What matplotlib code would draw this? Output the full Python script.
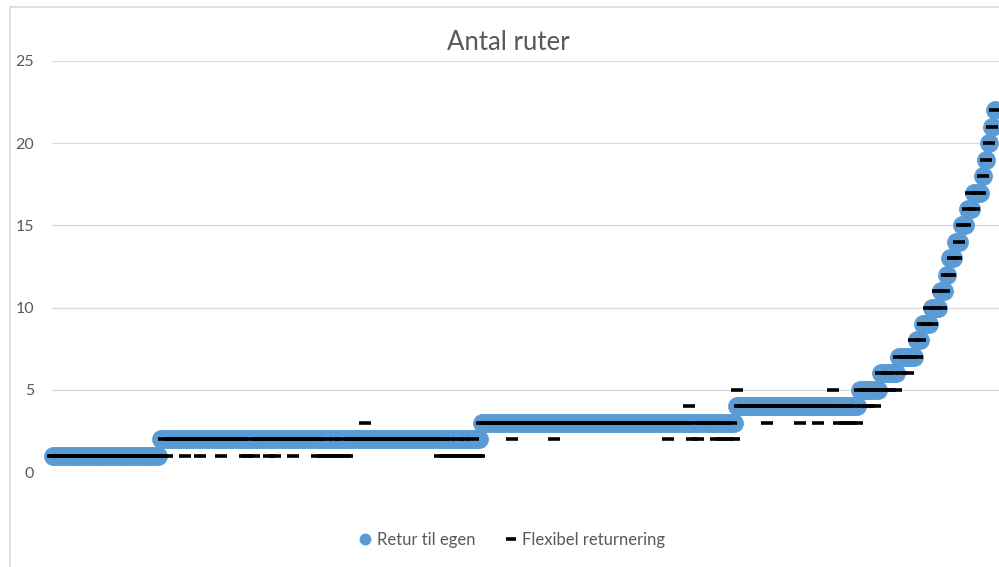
import numpy as np
import matplotlib.pyplot as plt
from matplotlib.lines import Line2D
from matplotlib.patches import Rectangle

plt.rcParams['font.family'] = ['Lato', 'DejaVu Sans']

# Retur til egen: antal ruter pr. instans, sorteret (niveau og antal instanser)
egen_levels = [1, 2, 3, 4, 5, 6, 7, 8, 9, 10, 11, 12, 13, 14, 15, 16, 17, 18, 19, 20, 21, 22]
egen_counts = [36, 107, 85, 41, 7, 6, 6, 2, 3, 3, 2, 1, 2, 2, 2, 2, 3, 1, 1, 1, 1, 1]

# Flexibel returnering: instanser hvor antallet afviger fra "Retur til egen"
flex_idx = [37, 39, 45, 50, 57, 65, 66, 68, 73, 75, 81,
            89, 91, 93, 94, 96, 98, 99, 105,
            130, 132, 134, 135, 137, 139, 140, 142, 143,
            154, 168, 206, 213, 214, 216, 222, 224, 226, 228,
            229, 239, 250, 256, 261, 263, 265, 267, 269,
            271, 273, 275, 278, 280, 282, 284, 286, 288, 289,
            293, 294, 296, 297, 300, 302, 307, 308]
flex_val = [1, 1, 1, 1, 1, 1, 1, 1, 1, 1, 1,
            1, 1, 1, 1, 1, 1, 1, 3,
            1, 1, 1, 1, 1, 1, 1, 1, 1,
            2, 2, 2, 4, 2, 2, 2, 2, 2, 2,
            5, 3, 3, 3, 5, 3, 3, 3, 3,
            4, 4, 4, 5, 5, 5, 6, 6, 8, 7,
            10, 9, 11, 10, 12, 13, 17, 16]

egen = np.repeat(egen_levels, egen_counts)
x = np.arange(1, len(egen) + 1)
flex = egen.copy()
flex[np.array(flex_idx) - 1] = flex_val

W, H = 999, 567
fig = plt.figure(figsize=(W / 100, H / 100), dpi=100)

# ramme om diagramområdet
fig.add_artist(Rectangle((10 / W, -0.1), 1.2, 1.1 - 7 / H, transform=fig.transFigure,
                         fill=False, edgecolor='#D9D9D9', lw=1.2))

ax = fig.add_axes([52 / W, (H - 472) / H, 958 / W, 411 / H])
ax.plot(x, egen, 'o', color='#5B9BD5', ms=13, mec='#5B9BD5', mew=0.5,
        clip_on=False, zorder=3)
ax.plot(x, flex, '_', color='black', ms=8.6, mew=2.6, clip_on=False, zorder=4)

ax.set_xlim(1 - 1 / 3, 1 + (1010 - 53) / 3)
ax.set_ylim(0, 25)
ax.set_yticks(range(0, 26, 5))
ax.set_xticks([])
ax.yaxis.grid(True, color='#D9D9D9', lw=0.9)
ax.set_axisbelow(True)
ax.tick_params(axis='y', length=0, pad=13, labelsize=11.5, labelcolor='#595959')
for s in ax.spines.values():
    s.set_visible(False)

fig.text(508 / W, 1 - 42 / H, 'Antal ruter', ha='center', va='center',
         fontsize=18.5, color='#595959')

handles = [Line2D([], [], ls='none', marker='o', color='#5B9BD5', ms=7.5),
           Line2D([], [], ls='none', marker='_', color='black', ms=7, mew=2.6)]
fig.legend(handles, ['Retur til egen', 'Flexibel returnering'], loc='center',
           bbox_to_anchor=(512 / W, 1 - 540 / H), ncol=2, frameon=False,
           fontsize=12, labelcolor='#595959', handlelength=0.8,
           handletextpad=0.3, columnspacing=1.7)

fig.savefig('out.png', dpi=100)
